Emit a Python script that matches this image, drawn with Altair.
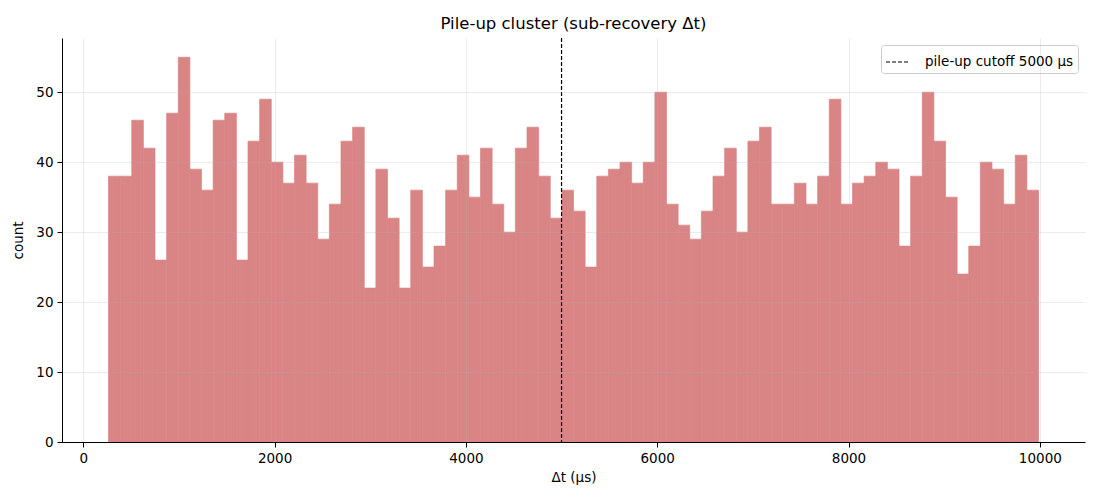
import altair as alt
import pandas as pd

counts = [38, 38, 46, 42, 26, 47, 55, 39, 36, 46, 47, 26, 43, 49, 40, 37, 41, 37, 29, 34,
          43, 45, 22, 39, 32, 22, 36, 25, 28, 36, 41, 35, 42, 34, 30, 42, 45, 38, 32, 36,
          33, 25, 38, 39, 40, 37, 40, 50, 34, 31, 29, 33, 38, 42, 30, 43, 45, 34, 34, 37,
          34, 38, 49, 34, 37, 38, 40, 39, 28, 38, 50, 43, 35, 24, 28, 40, 39, 34, 41, 36]
dt_min = 264.0
dt_max = 9986.0
cutoff = [5000]
cutoff_label = ["pile-up cutoff 5000 µs"]
x_ticks = [0, 2000, 4000, 6000, 8000, 10000]
y_ticks = [0, 10, 20, 30, 40, 50]

n = len(counts)
w = (dt_max - dt_min) / n
df = pd.DataFrame({
    "start": [dt_min + i * w for i in range(n)],
    "end": [dt_min + (i + 1) * w for i in range(n)],
    "count": counts,
})
cut_df = pd.DataFrame({"x": cutoff, "label": cutoff_label})

span = dt_max - dt_min
xdom = [dt_min - 0.05 * span, dt_max + 0.05 * span]
ydom = [0, max(counts) * 1.05]

FONT = "DejaVu Sans"
BAR = "#d98585"

xscale = alt.Scale(domain=xdom, nice=False, zero=False)
yscale = alt.Scale(domain=ydom, nice=False)

bars = alt.Chart(df).mark_rect(color=BAR, stroke=BAR, strokeWidth=0.7).encode(
    x=alt.X("start:Q", scale=xscale, title="Δt (µs)",
            axis=alt.Axis(values=x_ticks, format="d", grid=True, zindex=1)),
    x2="end:Q",
    y=alt.Y("count:Q", scale=yscale, title="count",
            axis=alt.Axis(values=y_ticks, format="d", grid=True, zindex=1)),
    y2=alt.datum(0),
)

rule = alt.Chart(cut_df).mark_rule(strokeWidth=1.2, strokeDash=[4, 2]).encode(
    x=alt.X("x:Q", scale=xscale),
    color=alt.Color("label:N", scale=alt.Scale(range=["black"]),
                    legend=alt.Legend(title=None, orient="top-right", offset=7,
                                      symbolType="stroke", symbolSize=576,
                                      symbolStrokeWidth=1.2, symbolDash=[4, 2],
                                      labelFontSize=13.5, labelFont=FONT,
                                      labelColor="black",
                                      fillColor="rgba(255,255,255,0.8)",
                                      strokeColor="#cccccc", cornerRadius=3,
                                      padding=4, labelOffset=14)),
)

chart = alt.layer(bars, rule).properties(
    width=1023, height=404,
    title=alt.TitleParams("Pile-up cluster (sub-recovery Δt)", font=FONT,
                          fontSize=16.5, fontWeight="normal", color="black",
                          offset=5),
    padding={"left": 54, "top": 30, "right": 7, "bottom": 50},
    autosize=alt.AutoSizeParams(type="none"),
).configure_view(stroke=None).configure_axis(
    labelFont=FONT, titleFont=FONT, labelFontSize=13.5, titleFontSize=13.5,
    titleFontWeight="normal", labelColor="black", titleColor="black",
    domainColor="black", tickColor="black", tickSize=5, labelPadding=4,
    gridColor="#b0b0b0", gridOpacity=0.3, gridWidth=0.8, domainWidth=1,
).configure_axisX(titlePadding=6).configure_axisY(titlePadding=10)

chart.save("out.html", embed_options={"renderer": "svg", "actions": False})
